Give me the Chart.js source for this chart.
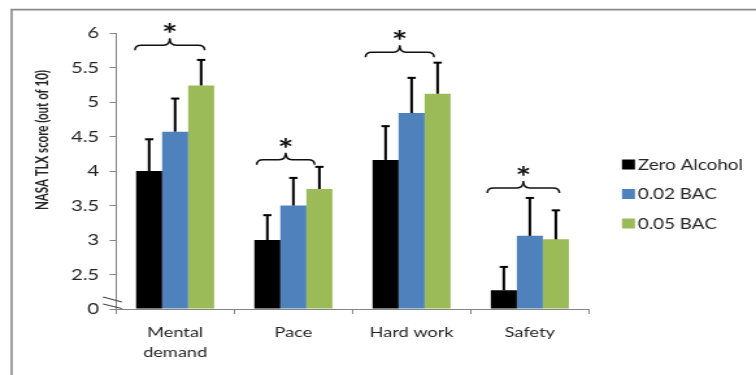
<!DOCTYPE html>
<html>
<head>
<meta charset="utf-8">
<script src="https://cdn.jsdelivr.net/npm/chart.js@4.4.1/dist/chart.umd.min.js"></script>
<style>
  html, body { margin: 0; padding: 0; background: #fff; overflow: hidden; }
</style>
</head>
<body>
<!-- the drawing buffer is narrower than the box, so the chart is shown widened -->
<canvas id="chart" width="582" height="375" style="display:block;width:756px;height:375px"></canvas>
<script>
// ---- data ----
const categories = [['Mental', 'demand'], 'Pace', 'Hard work', 'Safety'];
const seriesNames = ['Zero Alcohol', '0.02 BAC', '0.05 BAC'];
const zeroAlcohol = [4.00, 3.00, 4.16, 2.27];
const bac002 = [4.57, 3.50, 4.84, 3.06];
const bac005 = [5.24, 3.74, 5.12, 3.01];
// upper error (SE) for each bar
const zeroAlcoholErr = [0.46, 0.36, 0.49, 0.34];
const bac002Err = [0.48, 0.40, 0.51, 0.55];
const bac005Err = [0.37, 0.32, 0.45, 0.42];
// y axis is broken: bottom of the axis is labelled 0
const yTicks = [2, 2.5, 3, 3.5, 4, 4.5, 5, 5.5, 6];
const yTickLabels = ['0', '2.5', '3', '3.5', '4', '4.5', '5', '5.5', '6'];
// significance braces: value at the brace ends, and the mark shown above
const sigLevel = [5.75, 4.09, 5.65, 3.68];
const sigMark = ['*', '*', '*', '*'];

// brace extent, in category widths around the category centre
const braceFrom = [-0.34, -0.31, -0.39, -0.36];
const braceTo = [0.25, 0.18, 0.19, 0.25];

const FONT = 'Lato, "Open Sans", sans-serif';
const TEXT = '#262626';
const AXIS = '#868686';

const framePlugin = {
  id: 'frame',
  beforeDraw(chart) {
    const ctx = chart.ctx;
    ctx.save();
    ctx.fillStyle = '#fff';
    ctx.fillRect(0, 0, chart.width, chart.height);
    ctx.strokeStyle = '#8a8a8a';
    ctx.lineWidth = 1.6;
    ctx.beginPath();
    ctx.moveTo(8.9, chart.height + 5);
    ctx.lineTo(8.9, 9.6);
    ctx.lineTo(chart.width + 5, 9.6);
    ctx.stroke();
    ctx.restore();
  }
};

const errorBarPlugin = {
  id: 'errorBars',
  afterDatasetsDraw(chart) {
    const ctx = chart.ctx;
    const y = chart.scales.y;
    ctx.save();
    ctx.strokeStyle = '#000';
    chart.data.datasets.forEach((ds, i) => {
      const meta = chart.getDatasetMeta(i);
      meta.data.forEach((bar, j) => {
        const yTop = y.getPixelForValue(ds.data[j]);
        const yErr = y.getPixelForValue(ds.data[j] + ds.errorPlus[j]);
        ctx.lineWidth = 2;
        ctx.beginPath();
        ctx.moveTo(bar.x, yTop);
        ctx.lineTo(bar.x, yErr);
        ctx.stroke();
        ctx.beginPath();
        ctx.moveTo(bar.x - 3.2, yErr);
        ctx.lineTo(bar.x + 3.2, yErr);
        ctx.stroke();
      });
    });
    ctx.restore();
  }
};

const bracePlugin = {
  id: 'braces',
  afterDraw(chart) {
    const ctx = chart.ctx;
    const xs = chart.scales.x, ys = chart.scales.y;
    const catW = xs.getPixelForValue(1) - xs.getPixelForValue(0);
    ctx.save();
    ctx.strokeStyle = '#111';
    ctx.lineWidth = 1.5;
    sigLevel.forEach((lvl, i) => {
      const xc = xs.getPixelForValue(i);
      const x0 = xc + braceFrom[i] * catW;
      const x1 = xc + braceTo[i] * catW;
      const xm = (x0 + x1) / 2;
      const yE = ys.getPixelForValue(lvl);
      const yB = yE - 5;
      const yT = yB - 7;
      const r = 5;
      ctx.beginPath();
      ctx.moveTo(x0, yE);
      ctx.quadraticCurveTo(x0, yB, x0 + r, yB);
      ctx.lineTo(xm - r, yB);
      ctx.quadraticCurveTo(xm, yB, xm, yT);
      ctx.quadraticCurveTo(xm, yB, xm + r, yB);
      ctx.lineTo(x1 - r, yB);
      ctx.quadraticCurveTo(x1, yB, x1, yE);
      ctx.stroke();
      // significance mark
      ctx.fillStyle = '#111';
      ctx.font = 'bold 29px ' + FONT;
      ctx.textAlign = 'center';
      ctx.textBaseline = 'alphabetic';
      const m = ctx.measureText(sigMark[i]);
      const target = yT - 10;
      const yText = target - (m.actualBoundingBoxDescent - m.actualBoundingBoxAscent) / 2;
      ctx.fillText(sigMark[i], xm, yText);
    });
    ctx.restore();
  }
};

const decorPlugin = {
  id: 'decor',
  afterDraw(chart) {
    const ctx = chart.ctx;
    ctx.save();
    // axis break marks
    ctx.strokeStyle = '#4a4a4a';
    ctx.lineWidth = 1.2;
    ctx.beginPath();
    ctx.moveTo(79.3, 297); ctx.lineTo(93.8, 302);
    ctx.moveTo(79.3, 304); ctx.lineTo(93.8, 308.5);
    ctx.stroke();

    // y axis title, condensed along its length to 140px
    const title = 'NASA TLX score (out of 10)';
    ctx.fillStyle = TEXT;
    ctx.font = 'bold 13px ' + FONT;
    const k = 140 / ctx.measureText(title).width;
    ctx.translate(33, 140);
    ctx.rotate(-Math.PI / 2);
    ctx.scale(k, 1);
    ctx.textAlign = 'center';
    ctx.textBaseline = 'middle';
    ctx.fillText(title, 0, 0);
    ctx.restore();

    // legend
    ctx.save();
    ctx.font = '14.5px ' + FONT;
    ctx.textBaseline = 'middle';
    ctx.textAlign = 'left';
    chart.data.datasets.forEach((ds, i) => {
      const cy = 164.5 + i * 29.5;
      ctx.fillStyle = ds.backgroundColor;
      ctx.fillRect(478.8, cy - 5, 10, 10);
      ctx.fillStyle = TEXT;
      ctx.fillText(ds.label, 491, cy + 0.5);
    });
    ctx.restore();
  }
};

new Chart(document.getElementById('chart'), {
  type: 'bar',
  data: {
    labels: categories,
    datasets: [
      { label: seriesNames[0], data: zeroAlcohol, errorPlus: zeroAlcoholErr, backgroundColor: '#000000' },
      { label: seriesNames[1], data: bac002, errorPlus: bac002Err, backgroundColor: '#4F81BD' },
      { label: seriesNames[2], data: bac005, errorPlus: bac005Err, backgroundColor: '#9BBB59' }
    ]
  },
  options: {
    responsive: false,
    devicePixelRatio: 1,
    animation: false,
    events: [],
    base: 2,
    categoryPercentage: 0.66,
    barPercentage: 1.0,
    layout: { padding: { left: 0, right: 128.6, top: 33, bottom: 0 } },
    plugins: { legend: { display: false }, tooltip: { enabled: false } },
    scales: {
      x: {
        grid: { display: true, drawOnChartArea: false, drawTicks: true, tickLength: 5, color: AXIS, offset: true },
        border: { display: true, color: AXIS, width: 1 },
        ticks: { color: TEXT, font: { family: FONT, size: 14, lineHeight: 1.43 }, padding: 8, maxRotation: 0, autoSkip: false },
        afterFit(scale) { scale.height = 66; }
      },
      y: {
        min: 2,
        max: 6,
        afterBuildTicks(scale) { scale.ticks = yTicks.map(v => ({ value: v })); },
        grid: { display: true, drawOnChartArea: false, drawTicks: true, tickLength: 5, color: AXIS },
        border: { display: true, color: AXIS, width: 1 },
        ticks: {
          color: TEXT,
          font: { family: FONT, size: 15.5 },
          padding: 8,
          callback: (v) => { const k = yTicks.indexOf(v); return k >= 0 ? yTickLabels[k] : ''; }
        },
        afterFit(scale) { scale.width = 89.3; }
      }
    }
  },
  plugins: [framePlugin, errorBarPlugin, bracePlugin, decorPlugin]
});
</script>
</body>
</html>
